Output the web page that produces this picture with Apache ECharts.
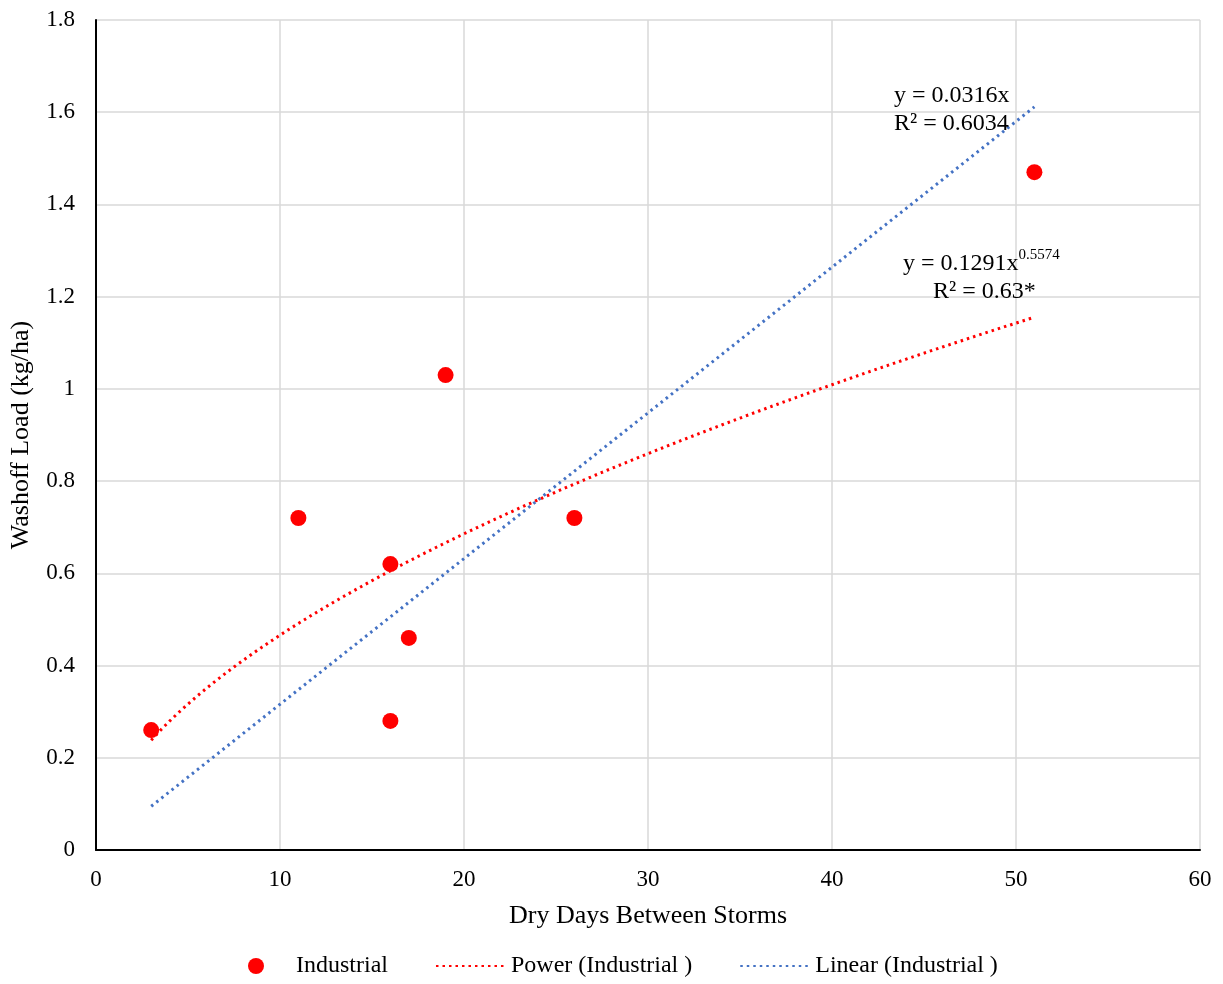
<!DOCTYPE html>
<html>
<head>
<meta charset="utf-8">
<title>Washoff Load vs Dry Days</title>
<script src="https://cdn.jsdelivr.net/npm/echarts@6/dist/echarts.min.js"></script>
<style>
  html, body { margin: 0; padding: 0; background: #ffffff; }
  #chart { width: 1223px; height: 984px; }
</style>
</head>
<body>
<div id="chart"></div>
<script>
// Observed washoff loads for the industrial site
const dryDays = [3, 11, 16, 16, 17, 19, 26, 51];
const washoffLoad = [0.26, 0.72, 0.62, 0.28, 0.46, 1.03, 0.72, 1.47];

// Fitted trendline coefficients (as printed on the chart)
const powerCoef = [0.1291, 0.5574];   // y = a * x^b
const linearSlope = [0.0316];         // y = m * x
const trendRange = [3, 51];

const xTicks = [0, 10, 20, 30, 40, 50, 60];
const yTicks = [0, 0.2, 0.4, 0.6, 0.8, 1, 1.2, 1.4, 1.6, 1.8];

const FONT = '"Liberation Serif", "Times New Roman", serif';

function trend(fn) {
  const pts = [];
  for (let x = trendRange[0]; x <= trendRange[1] + 1e-9; x += 0.5) {
    pts.push([x, fn(x)]);
  }
  return pts;
}
const powerLine = trend(x => powerCoef[0] * Math.pow(x, powerCoef[1]));
const linearLine = trend(x => linearSlope[0] * x);

const chart = echarts.init(document.getElementById('chart'), null, { renderer: 'canvas' });

// trendline legend entries show only the dotted stroke, no marker
const hiddenMarker = { color: 'rgba(0,0,0,0)', borderWidth: 0, opacity: 0 };

const option = {
  backgroundColor: '#ffffff',
  animation: false,
  textStyle: { fontFamily: FONT, color: '#000' },
  grid: { left: 96, right: 23, top: 20, bottom: 134, containLabel: false, outerBoundsMode: 'none' },
  xAxis: {
    type: 'value',
    min: xTicks[0], max: xTicks[xTicks.length - 1], interval: 10,
    name: 'Dry Days Between Storms',
    nameLocation: 'middle', nameGap: 53,
    nameTextStyle: { fontFamily: FONT, fontSize: 26, color: '#000' },
    axisLine: { show: true, onZero: false, lineStyle: { color: '#000', width: 2 } },
    axisTick: { show: false },
    axisLabel: { fontFamily: FONT, fontSize: 23, color: '#000', margin: 18 },
    splitLine: { show: true, lineStyle: { color: '#d9d9d9', width: 1.5 } }
  },
  yAxis: {
    type: 'value',
    min: yTicks[0], max: yTicks[yTicks.length - 1], interval: 0.2,
    name: 'Washoff Load (kg/ha)',
    nameLocation: 'middle', nameGap: 62, nameRotate: 90,
    nameTextStyle: { fontFamily: FONT, fontSize: 26, color: '#000' },
    axisLine: { show: true, onZero: false, lineStyle: { color: '#000', width: 2 } },
    axisTick: { show: false },
    axisLabel: { fontFamily: FONT, fontSize: 23, color: '#000', margin: 21 },
    splitLine: { show: true, lineStyle: { color: '#d9d9d9', width: 1.5 } }
  },
  legend: {
    bottom: 1,
    left: 243,
    itemGap: 47,
    itemWidth: 70,
    itemHeight: 16,
    textStyle: { fontFamily: FONT, fontSize: 24, color: '#000' },
    data: [
      { name: 'Industrial', icon: 'circle' },
      { name: 'Power (Industrial )', itemStyle: hiddenMarker },
      { name: 'Linear (Industrial )', itemStyle: hiddenMarker }
    ]
  },
  series: [
    {
      name: 'Power (Industrial )',
      type: 'line',
      data: powerLine,
      showSymbol: false,
      symbol: 'none',
      color: '#ff0000',
      lineStyle: { color: '#ff0000', width: 3, type: [2.5, 4] },
      z: 2
    },
    {
      name: 'Linear (Industrial )',
      type: 'line',
      data: linearLine,
      showSymbol: false,
      symbol: 'none',
      color: '#4472c4',
      lineStyle: { color: '#4472c4', width: 3, type: [2.5, 4] },
      z: 2
    },
    {
      name: 'Industrial',
      type: 'scatter',
      data: dryDays.map((d, i) => [d, washoffLoad[i]]),
      symbol: 'circle',
      symbolSize: 16,
      itemStyle: { color: '#ff0000', opacity: 1 },
      z: 3
    }
  ],
  graphic: [
    {
      type: 'text',
      left: 894, top: 82,
      style: {
        text: 'y = 0.0316x\nR² = 0.6034',
        font: '24px ' + FONT,
        fill: '#000',
        lineHeight: 28
      },
      z: 10
    },
    {
      type: 'text',
      left: 903, top: 248,
      style: {
        text: '{a|y = 0.1291x}{s|0.5574}\n{b|     R² = 0.63*}',
        rich: {
          a: { font: '24px ' + FONT, fill: '#000', lineHeight: 28 },
          s: { font: '15px ' + FONT, fill: '#000', lineHeight: 28, padding: [0, 0, 16, 0] },
          b: { font: '24px ' + FONT, fill: '#000', lineHeight: 28 }
        }
      },
      z: 10
    }
  ]
};

chart.setOption(option);
</script>
</body>
</html>
